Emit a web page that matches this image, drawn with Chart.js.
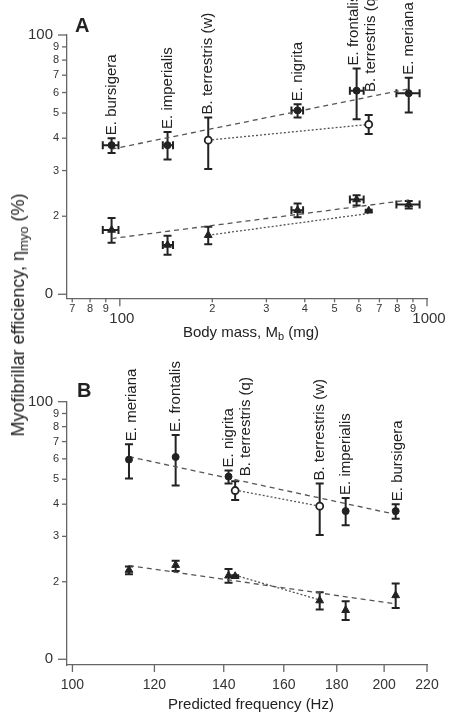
<!DOCTYPE html>
<html>
<head>
<meta charset="utf-8">
<title>Myofibrillar efficiency</title>
<script src="https://cdn.jsdelivr.net/npm/chart.js@4.4.1/dist/chart.umd.min.js"></script>
<style>
  html, body { margin: 0; padding: 0; background: #fff; }
  body { position: relative; width: 450px; height: 714px; overflow: hidden;
         font-family: "Liberation Sans", Arial, Helvetica, sans-serif; color: #222; }
  canvas { position: absolute; left: 0; }
  #chartA { top: 0; }
  #chartB { top: 350px; }
  .txt { position: absolute; white-space: nowrap; line-height: 18px; }
  .xtitle { font-size: 15px; transform: translateX(-50%); }
  .ytitle { font-size: 18px; left: 18px; top: 315px; transform: translate(-50%, -50%) rotate(-90deg); }
  .ytitle sub { font-size: 13px; vertical-align: -4px; }
  .panel { font-size: 20px; font-weight: bold; }
  sub { font-size: 11px; vertical-align: -3px; line-height: 0; }
</style>
</head>
<body>
<canvas id="chartA" width="450" height="350"></canvas>
<canvas id="chartB" width="450" height="364"></canvas>
<div class="txt panel" style="left:75px; top:16px;">A</div>
<div class="txt panel" style="left:77px; top:381px;">B</div>
<div class="txt xtitle" style="left:251px; top:323px;">Body mass, M<sub>b</sub> (mg)</div>
<div class="txt xtitle" style="left:251px; top:695px;">Predicted frequency (Hz)</div>
<div class="txt ytitle">Myofibrillar efficiency, η<sub>myo</sub> (%)</div>
<script>
// same species order in both panels
const species = ['E. bursigera', 'E. imperialis', 'B. terrestris (w)', 'E. nigrita', 'E. frontalis', 'B. terrestris (q)', 'E. meriana'];
const bumblebee = [false, false, true, false, false, true, false];

const bodyMass = [94, 143, 194, 379, 590, 646, 872];
const bodyMassLow = [88, 138, null, 362, 561, null, 795];
const bodyMassHigh = [99, 149, null, 395, 622, null, 946];
const frequency = [205.2, 183.6, 173.3, 141.5, 125.8, 143.6, 113.4];

const effUpper = [3.76, 3.76, 3.93, 5.12, 6.10, 4.52, 5.96];
const effUpperLow = [3.51, 3.31, 3.04, 4.81, 4.73, 4.15, 5.03];
const effUpperHigh = [4.00, 4.23, 4.81, 5.41, 7.43, 4.91, 6.84];
const effLower = [1.77, 1.55, 1.69, 2.11, 2.32, 2.10, 2.22];
const effLowerLow = [1.58, 1.42, 1.56, 1.98, 2.20, 2.08, 2.14];
const effLowerHigh = [1.97, 1.68, 1.82, 2.24, 2.41, 2.12, 2.29];

// regression lines (end points)
const massFitX = [94, 872];
const massFitUpper = [3.63, 6.20];
const massFitLower = [1.64, 2.31];
const massBeeX = [194, 646];
const massBeeUpper = [3.93, 4.52];
const massBeeLower = [1.69, 2.05];
const freqFitX = [113.4, 205.2];
const freqFitUpper = [6.12, 3.65];
const freqFitLower = [2.31, 1.64];
const freqBeeX = [143.6, 173.3];
const freqBeeUpper = [4.54, 3.93];
const freqBeeLower = [2.12, 1.70];

// ticks
const massTicks = [70, 80, 90, 100, 200, 300, 400, 500, 600, 700, 800, 900, 1000];
const massTickLabels = ['7', '8', '9', '100', '2', '3', '4', '5', '6', '7', '8', '9', '1000'];
const freqTicks = [100, 120, 140, 160, 180, 200, 220];
const freqTickLabels = ['100', '120', '140', '160', '180', '200', '220'];
const effTicks = [1, 2, 3, 4, 5, 6, 7, 8, 9, 10];
const effTickLabels = ['0', '2', '3', '4', '5', '6', '7', '8', '9', '100'];

const FONT = '"Liberation Sans", Arial, sans-serif';
const INK = '#222';
const isDecade = v => Number.isInteger(Math.log10(v));

const toPoints = (xs, ys) => xs.map((v, i) => ({ x: v, y: ys[i] }));

function fitLine(xs, ys, dash) {
    return {
        type: 'line',
        data: toPoints(xs, ys),
        borderColor: '#555',
        borderWidth: 1.3,
        borderDash: dash,
        pointRadius: 0,
        fill: false,
        order: 2
    };
}

// error bars, under the markers
const errorBars = {
    id: 'errorBars',
    beforeDatasetsDraw(chart, args, opts) {
        const { ctx, scales: { x, y } } = chart;
        const cap = 4;
        ctx.save();
        ctx.strokeStyle = INK;
        ctx.lineWidth = 2;
        opts.sets.forEach(s => {
            s.xs.forEach((xv, i) => {
                const px = x.getPixelForValue(xv);
                const py = y.getPixelForValue(s.ys[i]);
                const top = y.getPixelForValue(s.hi[i]);
                const bot = y.getPixelForValue(s.lo[i]);
                ctx.beginPath();
                ctx.moveTo(px, top); ctx.lineTo(px, bot);
                ctx.moveTo(px - cap, top); ctx.lineTo(px + cap, top);
                ctx.moveTo(px - cap, bot); ctx.lineTo(px + cap, bot);
                if (s.xlo && s.xlo[i] != null) {
                    const l = x.getPixelForValue(s.xlo[i]);
                    const r = x.getPixelForValue(s.xhi[i]);
                    ctx.moveTo(l, py); ctx.lineTo(r, py);
                    ctx.moveTo(l, py - cap); ctx.lineTo(l, py + cap);
                    ctx.moveTo(r, py - cap); ctx.lineTo(r, py + cap);
                }
                ctx.stroke();
            });
        });
        ctx.restore();
    }
};

// tick marks and tick labels (long ticks + big labels on decades)
const axisTicks = {
    id: 'axisTicks',
    afterDraw(chart, args, opts) {
        const { ctx, chartArea: area, scales: { x, y } } = chart;
        ctx.save();
        ctx.strokeStyle = '#666';
        ctx.lineWidth = 1.3;
        ctx.fillStyle = '#333';
        ctx.textBaseline = 'middle';
        const ox = opts.x;
        ox.values.forEach((v, i) => {
            const px = x.getPixelForValue(v);
            const big = ox.big(v);
            ctx.beginPath();
            ctx.moveTo(px, area.bottom);
            ctx.lineTo(px, area.bottom + (big ? ox.bigLen : ox.len));
            ctx.stroke();
            ctx.font = (big ? ox.bigSize : ox.size) + 'px ' + FONT;
            ctx.textAlign = 'center';
            ctx.fillText(ox.labels[i], px + (big ? ox.bigDx : 0), area.bottom + (big ? ox.bigDy : ox.dy));
        });
        const oy = opts.y;
        oy.values.forEach((v, i) => {
            const py = y.getPixelForValue(v);
            const big = isDecade(v);
            const len = big ? 9 : 5;
            ctx.beginPath();
            ctx.moveTo(area.left, py);
            ctx.lineTo(area.left - len, py);
            ctx.stroke();
            ctx.font = (big ? 15 : 11) + 'px ' + FONT;
            ctx.textAlign = 'right';
            ctx.fillText(oy.labels[i], area.left - len - (big ? 5 : 3), py);
        });
        ctx.restore();
    }
};

// rotated species names above the upper points
const speciesLabels = {
    id: 'speciesLabels',
    afterDraw(chart, args, opts) {
        const { ctx, scales: { x, y } } = chart;
        ctx.save();
        ctx.fillStyle = INK;
        ctx.font = '15px ' + FONT;
        ctx.textAlign = 'left';
        ctx.textBaseline = 'middle';
        species.forEach((name, i) => {
            const n = opts.nudge[i] || [0, 0];
            const px = x.getPixelForValue(opts.xs[i]) + n[0];
            const py = y.getPixelForValue(effUpperHigh[i]) - 3 + n[1];
            ctx.save();
            ctx.translate(px, py);
            ctx.rotate(-Math.PI / 2);
            ctx.fillText(name, 0, 0);
            ctx.restore();
        });
        ctx.restore();
    }
};

function makePanel(id, cfg) {
    const canvas = document.getElementById(id);
    return new Chart(canvas.getContext('2d'), {
        type: 'scatter',
        data: {
            datasets: [
                {
                    data: toPoints(cfg.xs, effUpper),
                    pointStyle: 'circle',
                    pointRadius: 3.5,
                    pointBackgroundColor: bumblebee.map(b => b ? '#fff' : INK),
                    pointBorderColor: INK,
                    pointBorderWidth: bumblebee.map(b => b ? 1.8 : 1),
                    order: 1
                },
                {
                    data: toPoints(cfg.xs, effLower),
                    pointStyle: 'triangle',
                    pointRadius: 4.5,
                    pointBackgroundColor: INK,
                    pointBorderColor: INK,
                    pointBorderWidth: 1,
                    order: 1
                },
                fitLine(cfg.fitX, cfg.fitUpper, [5, 4]),
                fitLine(cfg.fitX, cfg.fitLower, [5, 4]),
                fitLine(cfg.beeX, cfg.beeUpper, [2, 2]),
                fitLine(cfg.beeX, cfg.beeLower, [2, 2])
            ]
        },
        options: {
            responsive: false,
            animation: false,
            devicePixelRatio: 1,
            layout: { padding: { left: 0, right: 23, top: cfg.top, bottom: 0 } },
            plugins: {
                legend: { display: false },
                tooltip: { enabled: false },
                errorBars: {
                    sets: [
                        { xs: cfg.xs, ys: effUpper, lo: effUpperLow, hi: effUpperHigh, xlo: cfg.xlo, xhi: cfg.xhi },
                        { xs: cfg.xs, ys: effLower, lo: effLowerLow, hi: effLowerHigh, xlo: cfg.xlo, xhi: cfg.xhi }
                    ]
                },
                axisTicks: {
                    x: cfg.xTicks,
                    y: { values: effTicks, labels: effTickLabels }
                },
                speciesLabels: { xs: cfg.xs, nudge: cfg.nudge }
            },
            scales: {
                x: {
                    type: 'logarithmic',
                    min: cfg.xMin,
                    max: cfg.xMax,
                    afterFit: s => { s.height = cfg.xAxisHeight; },
                    ticks: { display: false },
                    grid: { display: false },
                    border: { color: '#666', width: 1.3 }
                },
                y: {
                    type: 'logarithmic',
                    min: cfg.yMin,
                    max: 10,
                    afterFit: s => { s.width = 67; },
                    ticks: { display: false },
                    grid: { display: false },
                    border: { color: '#666', width: 1.3 }
                }
            }
        },
        plugins: [errorBars, axisTicks, speciesLabels]
    });
}

makePanel('chartA', {
    xs: bodyMass, xlo: bodyMassLow, xhi: bodyMassHigh,
    fitX: massFitX, fitUpper: massFitUpper, fitLower: massFitLower,
    beeX: massBeeX, beeUpper: massBeeUpper, beeLower: massBeeLower,
    xMin: 67.3, xMax: 1000, yMin: 0.965,
    top: 35, xAxisHeight: 51.7,
    xTicks: { values: massTicks, labels: massTickLabels, big: isDecade,
              len: 4, bigLen: 8, size: 11, bigSize: 15, dy: 11, bigDy: 21, bigDx: 2 },
    nudge: { 4: [-3, 0], 5: [2, -20] }
});

makePanel('chartB', {
    xs: frequency, xlo: null, xhi: null,
    fitX: freqFitX, fitUpper: freqFitUpper, fitLower: freqFitLower,
    beeX: freqBeeX, beeUpper: freqBeeUpper, beeLower: freqBeeLower,
    xMin: 98.8, xMax: 220, yMin: 0.95,
    top: 51.7, xAxisHeight: 49,
    xTicks: { values: freqTicks, labels: freqTickLabels, big: () => true,
              len: 7, bigLen: 7, size: 14, bigSize: 14, dy: 20, bigDy: 20, bigDx: 0 },
    nudge: { 0: [2, 0], 5: [11, -2], 6: [3, 0] }
});
</script>
</body>
</html>
